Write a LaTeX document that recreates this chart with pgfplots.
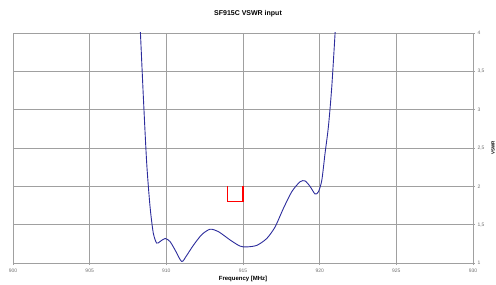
\documentclass[border=0pt]{standalone}
\usepackage{pgfplots}
\pgfplotsset{compat=1.18}
\usepackage{fontspec}
\setmainfont{Liberation Sans}
\definecolor{curve}{HTML}{2C2C9C}
\definecolor{gridc}{HTML}{A0A0A0}
\definecolor{tickc}{HTML}{707070}
\definecolor{mask}{RGB}{255,0,0}
\begin{document}
\begin{tikzpicture}
\begin{axis}[
  scale only axis, width=460pt, height=230pt,
  xmin=900, xmax=930, ymin=1, ymax=4,
  xtick={900,905,...,930}, ytick={1,1.5,...,4},
  yticklabel pos=right,
  /pgf/number format/use comma,
  /pgf/number format/assume math mode=true,
  x tick label style={/pgf/number format/1000 sep={}},
  ticklabel style={font=\fontsize{5}{6}\selectfont, text=tickc},
  xticklabel style={yshift=0pt},
  yticklabel style={xshift=-1pt},
  grid=major,
  major grid style={gridc, line width=0.8pt},
  axis line style={gridc, line width=0.8pt},
  tick style={gridc, line width=0.6pt},
  tick align=outside, major tick length=2pt,
  xtick pos=bottom, ytick pos=right,
  title={SF915C VSWR input},
  title style={font=\bfseries\fontsize{7}{8}\selectfont, yshift=7pt, xshift=5pt},
  xlabel={Frequency [MHz]},
  xlabel style={font=\bfseries\fontsize{6}{7}\selectfont, yshift=3pt},
  ylabel={VSWR},
  ylabel style={font=\bfseries\fontsize{4.5}{5}\selectfont, yshift=0pt},
  clip=true,
]
\addplot[mask, line width=1.1pt, mark=none] coordinates {(914,2) (914,1.8) (915,1.8) (915,2)};
\addplot[color=curve, line width=0.9pt, smooth, tension=0.45] coordinates {
(908.30,4.05) (908.50,3.17) (908.72,2.30) (908.94,1.73) (909.15,1.39)
(909.37,1.26) (909.59,1.28) (909.92,1.32) (910.24,1.28) (910.57,1.17)
(911.00,1.02) (911.33,1.10) (911.76,1.23) (912.31,1.37) (912.85,1.44)
(913.39,1.41) (914.16,1.30) (914.81,1.22) (915.24,1.21) (915.90,1.23)
(916.55,1.32) (917.09,1.47) (917.63,1.71) (918.18,1.93) (918.72,2.06)
(919.05,2.07) (919.37,2.00) (919.70,1.90) (919.92,1.93) (920.14,2.08)
(920.35,2.43) (920.57,2.78) (920.79,3.30) (921.02,4.05)
};
\end{axis}
\pgfresetboundingbox
\path (current axis.south west) ++(-13pt,-21pt) coordinate (bl);
\path (current axis.north east) ++(23pt,33pt) coordinate (tr);
\path[use as bounding box] (bl) rectangle (tr);
\end{tikzpicture}
\end{document}
